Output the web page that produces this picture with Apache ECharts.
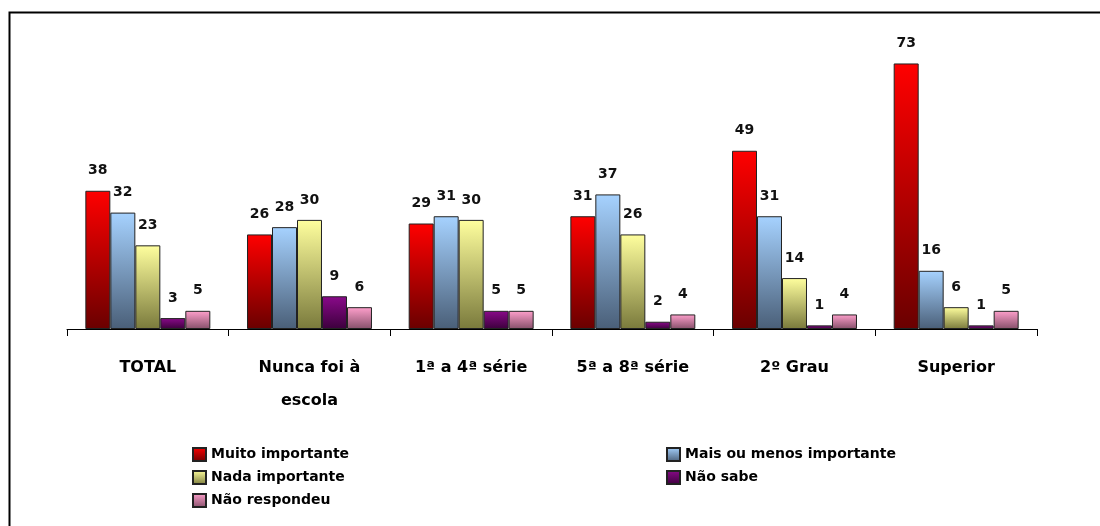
<!DOCTYPE html>
<html>
<head>
<meta charset="utf-8">
<script src="https://cdn.jsdelivr.net/npm/echarts@6/dist/echarts.min.js"></script>
<style>
  html, body { margin: 0; padding: 0; background: #fff; }
  #chart { width: 1100px; height: 526px; }
</style>
</head>
<body>
<div id="chart"></div>
<script>
const categories = ['TOTAL', 'Nunca foi à\nescola', '1ª a 4ª série', '5ª a 8ª série', '2º Grau', 'Superior']
const seriesNames = ['Muito importante', 'Mais ou menos importante', 'Nada importante', 'Não sabe', 'Não respondeu']
const muitoImportante = [38, 26, 29, 31, 49, 73]
const maisOuMenos = [32, 28, 31, 37, 31, 16]
const nadaImportante = [23, 30, 30, 26, 14, 6]
const naoSabe = [3, 9, 5, 2, 1, 1]
const naoRespondeu = [5, 6, 5, 4, 4, 5]

const values = [muitoImportante, maisOuMenos, nadaImportante, naoSabe, naoRespondeu]
// gradient top -> bottom for each series
const gradients = [
  ['#ff0000', '#6a0000'],
  ['#a6d2ff', '#4a5f78'],
  ['#ffff9e', '#7a7a3c'],
  ['#8a0a8a', '#3c003c'],
  ['#ffa0cc', '#86506a']
]

const chart = echarts.init(document.getElementById('chart'))

const font = '"DejaVu Sans", Arial, sans-serif'

const grad = (c) => new echarts.graphic.LinearGradient(0, 0, 0, 1, [
  { offset: 0, color: c[0] },
  { offset: 1, color: c[1] }
])

const series = values.map((data, i) => ({
  name: seriesNames[i],
  type: 'bar',
  barGap: '0%',
  barCategoryGap: '22.7%',
  itemStyle: {
    color: grad(gradients[i]),
    borderColor: '#222',
    borderWidth: 1
  },
  label: {
    show: true,
    position: 'top',
    distance: 13,
    color: '#111',
    fontFamily: font,
    fontWeight: 'bold',
    fontSize: 14
  },
  data: data
}))

const legendText = {
  color: '#000',
  fontFamily: font,
  fontWeight: 'bold',
  fontSize: 14
}

const legendBase = {
  orient: 'vertical',
  top: 442,
  itemWidth: 13,
  itemHeight: 13,
  itemGap: 8,
  icon: 'rect',
  textStyle: legendText
}

const option = {
  animation: false,
  backgroundColor: '#fff',
  grid: {
    left: 67,
    right: 63,
    top: 38,
    bottom: 197
  },
  legend: [
    Object.assign({}, legendBase, {
      left: 187,
      data: [seriesNames[0], seriesNames[2], seriesNames[4]]
    }),
    Object.assign({}, legendBase, {
      left: 661,
      data: [seriesNames[1], seriesNames[3]]
    })
  ],
  xAxis: {
    type: 'category',
    data: categories,
    axisLine: { lineStyle: { color: '#000', width: 1 } },
    axisTick: { show: true, length: 7, lineStyle: { color: '#000' } },
    axisLabel: {
      color: '#000',
      fontFamily: font,
      fontWeight: 'bold',
      fontSize: 16,
      lineHeight: 33,
      margin: 22,
      interval: 0
    }
  },
  yAxis: {
    type: 'value',
    min: 0,
    max: 80,
    show: false,
    splitLine: { show: false }
  },
  graphic: [
    {
      type: 'rect',
      left: 7,
      top: 10,
      shape: { width: 1200, height: 700 },
      style: { fill: 'none', stroke: '#000', lineWidth: 2 },
      silent: true
    }
  ],
  series: series
}

chart.setOption(option)
</script>
</body>
</html>
